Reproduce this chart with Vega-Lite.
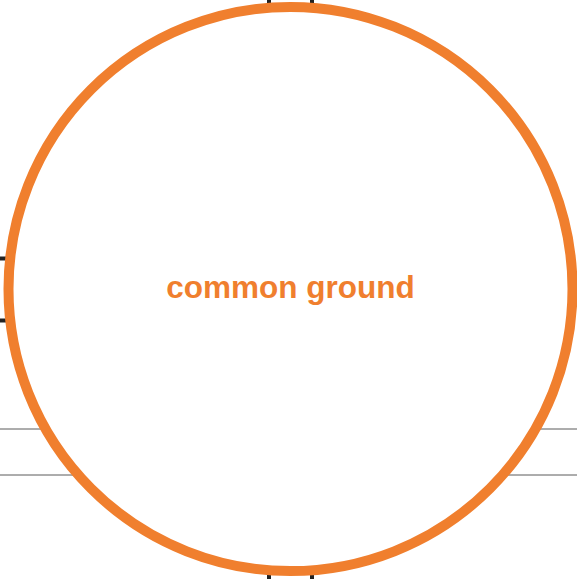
{
  "$schema": "https://vega.github.io/schema/vega-lite/v6.json",
  "width": 577,
  "height": 579,
  "autosize": {"type": "none"},
  "padding": 0,
  "background": "white",
  "config": {"view": {"stroke": null}},
  "datasets": {
    "grayLines": [
      {"x1": -10, "x2": 590, "y": 429},
      {"x1": -10, "x2": 590, "y": 475}
    ],
    "blackV": [
      {"x": 269, "y1": -10, "y2": 590},
      {"x": 312, "y1": -10, "y2": 590}
    ],
    "blackH": [
      {"y": 258.5, "x1": -10, "x2": 290},
      {"y": 320.5, "x1": -10, "x2": 290}
    ],
    "circle": [
      {"x": 290.5, "y": 289, "label": "common ground"}
    ]
  },
  "layer": [
    {
      "data": {"name": "grayLines"},
      "mark": {"type": "rule", "color": "#5a5a5a", "strokeWidth": 1},
      "encoding": {
        "x": {"field": "x1", "type": "quantitative", "scale": {"domain": [0, 577], "nice": false, "zero": false}, "axis": null},
        "x2": {"field": "x2"},
        "y": {"field": "y", "type": "quantitative", "scale": {"domain": [0, 579], "nice": false, "zero": false, "reverse": true}, "axis": null}
      }
    },
    {
      "data": {"name": "blackV"},
      "mark": {"type": "rule", "color": "#222222", "strokeWidth": 4},
      "encoding": {
        "x": {"field": "x", "type": "quantitative"},
        "y": {"field": "y1", "type": "quantitative"},
        "y2": {"field": "y2"}
      }
    },
    {
      "data": {"name": "blackH"},
      "mark": {"type": "rule", "color": "#222222", "strokeWidth": 4},
      "encoding": {
        "y": {"field": "y", "type": "quantitative"},
        "x": {"field": "x1", "type": "quantitative"},
        "x2": {"field": "x2"}
      }
    },
    {
      "data": {"name": "circle"},
      "mark": {"type": "point", "shape": "circle", "size": 318096, "filled": false, "fill": "white", "fillOpacity": 1, "stroke": "#F07F2E", "strokeWidth": 10, "opacity": 1},
      "encoding": {
        "x": {"field": "x", "type": "quantitative"},
        "y": {"field": "y", "type": "quantitative"}
      }
    },
    {
      "data": {"name": "circle"},
      "mark": {"type": "text", "font": "Liberation Sans", "fontWeight": "bold", "fontSize": 31.5, "color": "#F07F2E", "align": "center", "baseline": "alphabetic", "dy": 8.5},
      "encoding": {
        "x": {"field": "x", "type": "quantitative"},
        "y": {"field": "y", "type": "quantitative"},
        "text": {"field": "label"}
      }
    }
  ]
}
